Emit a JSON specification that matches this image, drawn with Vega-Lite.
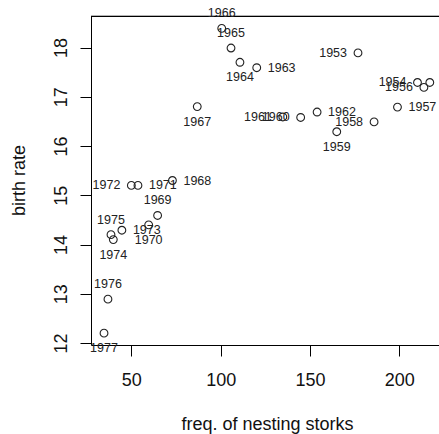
{
  "$schema": "https://vega.github.io/schema/vega-lite/v6.json",
  "width": 348,
  "height": 329,
  "autosize": {"type": "none"},
  "padding": {"left": 91, "top": 16, "right": 0, "bottom": 89},
  "background": "white",
  "config": {
    "view": {"stroke": null},
    "font": "Liberation Sans",
    "axis": {"grid": false, "domainColor": "#000", "tickColor": "#000", "labelColor": "#111", "titleColor": "#111", "labelFont": "Liberation Sans", "titleFont": "Liberation Sans", "labelFontSize": 18, "titleFontSize": 18, "titleFontWeight": "normal", "tickSize": 11, "domainWidth": 1, "tickWidth": 1}
  },
  "data": {"values": [
    {"year": 1953, "storks": 176.9, "birth": 17.89},
    {"year": 1954, "storks": 210.2, "birth": 17.29},
    {"year": 1955, "storks": 217.1, "birth": 17.29},
    {"year": 1956, "storks": 213.8, "birth": 17.19},
    {"year": 1957, "storks": 199.0, "birth": 16.79},
    {"year": 1958, "storks": 185.9, "birth": 16.49},
    {"year": 1959, "storks": 165.0, "birth": 16.29},
    {"year": 1960, "storks": 144.8, "birth": 16.58},
    {"year": 1961, "storks": 134.8, "birth": 16.59},
    {"year": 1962, "storks": 154.0, "birth": 16.69},
    {"year": 1963, "storks": 120.2, "birth": 17.59},
    {"year": 1964, "storks": 110.8, "birth": 17.70},
    {"year": 1965, "storks": 105.8, "birth": 17.99},
    {"year": 1966, "storks": 100.6, "birth": 18.39},
    {"year": 1967, "storks": 86.9, "birth": 16.80},
    {"year": 1968, "storks": 73.0, "birth": 15.30},
    {"year": 1969, "storks": 64.7, "birth": 14.59},
    {"year": 1970, "storks": 59.7, "birth": 14.40},
    {"year": 1971, "storks": 53.7, "birth": 15.20},
    {"year": 1972, "storks": 50.0, "birth": 15.20},
    {"year": 1973, "storks": 44.7, "birth": 14.29},
    {"year": 1974, "storks": 39.9, "birth": 14.10},
    {"year": 1975, "storks": 38.6, "birth": 14.20},
    {"year": 1976, "storks": 36.9, "birth": 12.89},
    {"year": 1977, "storks": 34.7, "birth": 12.20}
  ]},
  "layer": [
    {
      "mark": {"type": "point", "shape": "circle", "filled": false, "size": 60, "stroke": "#222", "strokeWidth": 1.1, "opacity": 1},
      "encoding": {
        "x": {"field": "storks", "type": "quantitative", "scale": {"domain": [27.41, 222.25], "nice": false, "zero": false}, "axis": {"values": [50, 100, 150, 200], "title": "freq. of nesting storks", "labelPadding": 15, "titleX": 176, "titleY": 84, "titleBaseline": "alphabetic", "titleAnchor": null, "titleAlign": "center"}},
        "y": {"field": "birth", "type": "quantitative", "scale": {"domain": [11.96, 18.64], "nice": false, "zero": false}, "axis": {"values": [12, 13, 14, 15, 16, 17, 18], "title": "birth rate", "labelAngle": -90, "labelAlign": "center", "labelBaseline": "alphabetic", "labelPadding": 14, "titleAngle": -90, "titleBaseline": "alphabetic", "titleX": -67, "titleY": 164, "titleAlign": "center"}}
      }
    },
    {
      "mark": {"type": "rule", "color": "#000", "strokeWidth": 1},
      "encoding": {"y": {"datum": 18.63, "type": "quantitative"}}
    },
    {
      "transform": [{"filter": "indexof([1965, 1966, 1969, 1975, 1976], datum.year) >= 0"}],
      "mark": {"type": "text", "fontSize": 12.5, "color": "#222", "align": "center", "baseline": "middle", "dy": -15},
      "encoding": {"x": {"field": "storks", "type": "quantitative"}, "y": {"field": "birth", "type": "quantitative"}, "text": {"field": "year", "type": "nominal"}}
    },
    {
      "transform": [{"filter": "indexof([1959, 1964, 1967, 1970, 1974, 1977], datum.year) >= 0"}],
      "mark": {"type": "text", "fontSize": 12.5, "color": "#222", "align": "center", "baseline": "middle", "dy": 15},
      "encoding": {"x": {"field": "storks", "type": "quantitative"}, "y": {"field": "birth", "type": "quantitative"}, "text": {"field": "year", "type": "nominal"}}
    },
    {
      "transform": [{"filter": "indexof([1953, 1954, 1956, 1958, 1960, 1961, 1972], datum.year) >= 0"}],
      "mark": {"type": "text", "fontSize": 12.5, "color": "#222", "align": "right", "baseline": "middle", "dx": -11},
      "encoding": {"x": {"field": "storks", "type": "quantitative"}, "y": {"field": "birth", "type": "quantitative"}, "text": {"field": "year", "type": "nominal"}}
    },
    {
      "transform": [{"filter": "indexof([1955, 1957, 1962, 1963, 1968, 1971, 1973], datum.year) >= 0"}],
      "mark": {"type": "text", "fontSize": 12.5, "color": "#222", "align": "left", "baseline": "middle", "dx": 11},
      "encoding": {"x": {"field": "storks", "type": "quantitative"}, "y": {"field": "birth", "type": "quantitative"}, "text": {"field": "year", "type": "nominal"}}
    }
  ]
}
